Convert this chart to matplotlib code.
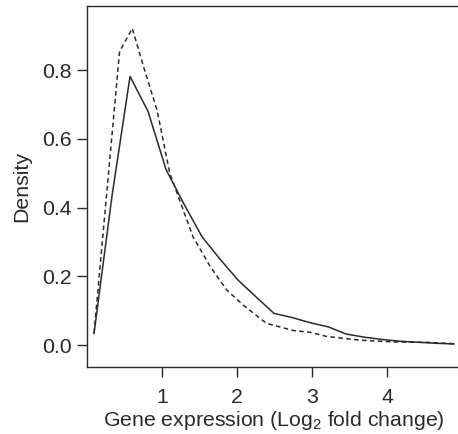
import numpy as np
import matplotlib
matplotlib.use('Agg')
import matplotlib.pyplot as plt

plt.rcParams['font.family'] = ['Liberation Sans', 'DejaVu Sans']
plt.rcParams['mathtext.fontset'] = 'custom'
plt.rcParams['mathtext.rm'] = 'Liberation Sans'
plt.rcParams['mathtext.it'] = 'Liberation Sans'

# solid curve
x_solid = [0.09, 0.33, 0.57, 0.81, 1.05, 1.29, 1.53, 1.77, 2.01, 2.25, 2.49,
           2.73, 2.97, 3.21, 3.45, 3.69, 3.93, 4.17, 4.41, 4.65, 4.89]
y_solid = [0.034, 0.435, 0.782, 0.680, 0.511, 0.410, 0.315, 0.250, 0.189, 0.140, 0.092,
           0.080, 0.065, 0.053, 0.032, 0.023, 0.016, 0.011, 0.008, 0.005, 0.003]

# dashed curve
x_dash = [0.09, 0.43, 0.60, 0.75, 0.93, 1.10, 1.41, 1.64, 1.86, 2.08, 2.39,
          2.75, 2.97, 3.19, 3.64, 4.08, 4.30, 4.52, 4.88]
y_dash = [0.035, 0.854, 0.922, 0.810, 0.684, 0.500, 0.315, 0.228, 0.160, 0.116, 0.063,
          0.042, 0.037, 0.025, 0.014, 0.009, 0.008, 0.008, 0.004]

col = '#2a2a2a'
fs = 15.3

fig = plt.figure(figsize=(4.58, 4.34), dpi=100)
ax = fig.add_axes([0.1906, 0.1544, 0.815, 0.8318])

ax.plot(x_solid, y_solid, color=col, lw=1.1)
ax.plot(x_dash, y_dash, color=col, lw=1.1, dashes=(3.0, 2.2))

ax.set_xlim(0, 4.977)
ax.set_ylim(-0.064, 0.987)
ax.set_xticks([1, 2, 3, 4])
ax.set_yticks([0.0, 0.2, 0.4, 0.6, 0.8])
ax.set_yticklabels(['0.0', '0.2', '0.4', '0.6', '0.8'])

for s in ax.spines.values():
    s.set_color(col)
    s.set_linewidth(1.0)

ax.tick_params(direction='out', length=7.5, width=1.0, color=col,
               labelsize=fs, labelcolor=col)
ax.tick_params(axis='x', pad=7.5)
ax.tick_params(axis='y', pad=3.5)

ax.set_xlabel(r'Gene expression (Log$_2$ fold change)', fontsize=fs, color=col, labelpad=1.5)
ax.set_ylabel('Density', fontsize=fs, color=col, labelpad=8)

fig.savefig('out.png', dpi=100)
